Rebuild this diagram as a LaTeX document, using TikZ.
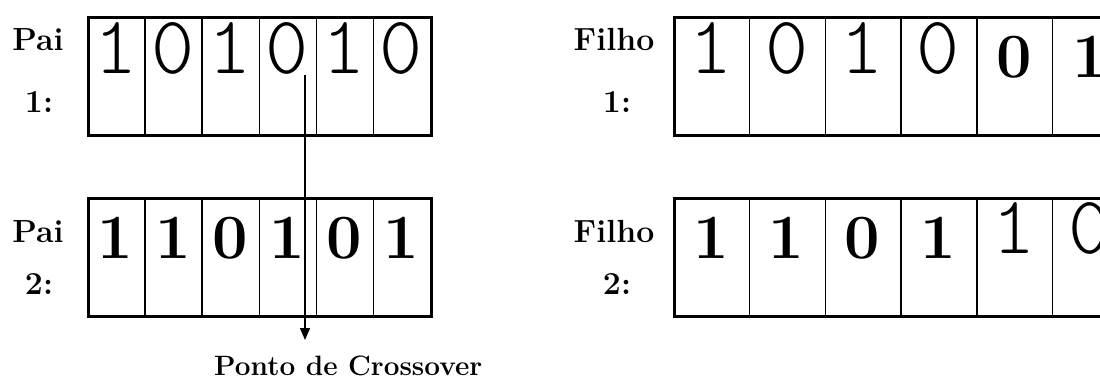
\documentclass[tikz,border=0pt]{standalone}
\usepackage{fontspec}
\newfontfamily\lightdig{Latin Modern Mono Light}
\usetikzlibrary{arrows.meta}
\begin{document}
\begin{tikzpicture}[x=1pt,y=-1pt,
  cell/.style={draw, line width=1.4pt, minimum height=118pt, inner sep=0pt, anchor=north west},
  frame/.style={draw, line width=3pt, minimum height=118pt, inner sep=0pt, anchor=north west},
  lightd/.style={anchor=base, inner sep=0pt, font=\lightdig\fontsize{82}{82}\selectfont},
  boldd/.style={anchor=base, inner sep=0pt, font=\bfseries\fontsize{63}{63}\selectfont},
  lab/.style={anchor=base, inner sep=0pt, font=\bfseries\fontsize{32}{32}\selectfont}
]
\clip (0,0) rectangle (1100,380);
% Pai 1
\foreach \i in {0,...,5} \node[cell, minimum width=57.17pt] (pa\i) at ({87+57.17*\i},16) {};
\node[frame, minimum width=343pt] (pai1) at (87,16) {};
\foreach \d [count=\i from 0] in {1,0,1,0,1,0}
  \node[lightd] (pad\i) at ({115.6+57.17*\i},73) {\d};
% Pai 2
\foreach \i in {0,...,5} \node[cell, minimum width=57.17pt] (pb\i) at ({87+57.17*\i},197) {};
\node[frame, minimum width=343pt] (pai2) at (87,197) {};
\foreach \d [count=\i from 0] in {1,1,0,1,0,1}
  \node[boldd] (pbd\i) at ({115.6+57.17*\i},258) {\d};
% Filho 1
\foreach \i in {0,...,5} \node[cell, minimum width=75.8pt] (fa\i) at ({673+75.8*\i},16) {};
\node[frame, minimum width=455pt] (filho1) at (673,16) {};
\foreach \d/\s [count=\i from 0] in {1/lightd,0/lightd,1/lightd,0/lightd,0/boldd,1/boldd}
  \node[\s] (fad\i) at ({710.9+75.8*\i},\ifnum\i<4 73\else 77\fi) {\d};
% Filho 2
\foreach \i in {0,...,5} \node[cell, minimum width=75.8pt] (fb\i) at ({673+75.8*\i},197) {};
\node[frame, minimum width=455pt] (filho2) at (673,197) {};
\foreach \d/\s [count=\i from 0] in {1/boldd,1/boldd,0/boldd,1/boldd,1/lightd,0/lightd}
  \node[\s] (fbd\i) at ({710.9+75.8*\i},\ifnum\i<4 258\else 253\fi) {\d};
% labels
\node[lab] (l1a) at (38,50) {Pai};
\node[lab] (l1b) at (39,112) {1:};
\node[lab] (l2a) at (38,242) {Pai};
\node[lab] (l2b) at (39,294) {2:};
\node[lab] (l3a) at (614,50) {Filho};
\node[lab] (l3b) at (617,112) {1:};
\node[lab] (l4a) at (614,242) {Filho};
\node[lab] (l4b) at (617,294) {2:};
% crossover
\coordinate (cxtop) at (305,75);
\coordinate (cxtip) at (305,340);
\draw[line width=1.4pt, -{Triangle[length=12pt,width=10pt]}] (cxtop) -- (cxtip);
\node[anchor=base west, inner sep=0pt, font=\bfseries\fontsize{28}{28}\selectfont] (ponto) at (214,375) {Ponto de Crossover};
\end{tikzpicture}
\end{document}
